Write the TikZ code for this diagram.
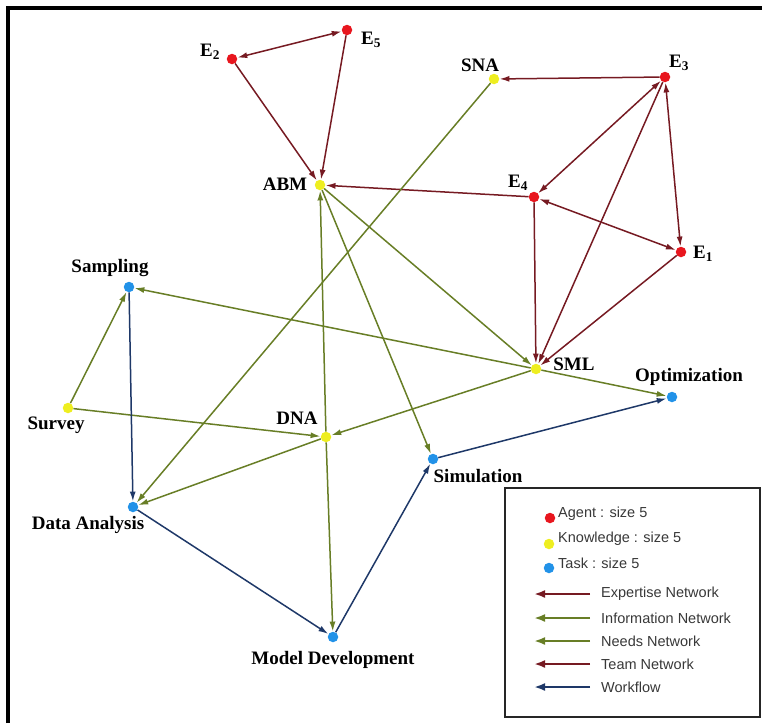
\documentclass[tikz,border=0pt]{standalone}
\usepackage{fontspec}
\setmainfont{Liberation Serif}
\setsansfont{Liberation Sans}
\usepackage{xcolor}
\usetikzlibrary{arrows.meta,backgrounds}
\definecolor{agentred}{RGB}{232,22,30}
\definecolor{knowyellow}{RGB}{238,238,32}
\definecolor{taskblue}{RGB}{34,146,232}
\definecolor{teamred}{RGB}{118,26,34}
\definecolor{infogreen}{RGB}{104,126,38}
\definecolor{flowblue}{RGB}{30,56,104}

\begin{document}
\begin{tikzpicture}[
  x=1pt, y=-1pt,
  >={Latex[length=10pt,width=6pt]},
  agent/.style={circle, fill=agentred, inner sep=0pt, minimum size=10.5pt},
  know/.style={circle, fill=knowyellow, inner sep=0pt, minimum size=10.5pt},
  task/.style={circle, fill=taskblue, inner sep=0pt, minimum size=10.5pt},
  lbl/.style={font=\fontsize{19}{19}\selectfont\bfseries, inner sep=0pt},
  leg/.style={font=\sffamily\fontsize{14.5}{15}\selectfont, text=black!78, inner sep=0pt, anchor=west},
  rarr/.style={->, draw=teamred, line width=1.5pt},
  garr/.style={->, draw=infogreen, line width=1.5pt},
  barr/.style={->, draw=flowblue, line width=1.5pt},
  legarr/.style={line width=2.6pt, >={Latex[length=11pt,width=8pt]}},
]
\useasboundingbox (0,0) rectangle (762,723);
\draw[line width=4pt] (8,723) -- (8,8) -- (762,8);

\node[agent] (e2) at (232,59) {};
\node[agent] (e5) at (347,30) {};
\node[agent] (e3) at (665,77) {};
\node[agent] (e4) at (534,197) {};
\node[agent] (e1) at (681,252) {};
\node[know] (sna) at (494,79) {};
\node[know] (abm) at (320,185) {};
\node[know] (sml) at (536,369) {};
\node[know] (dna) at (326,437) {};
\node[know] (survey) at (68,408) {};
\node[task] (sampling) at (129,287) {};
\node[task] (optimization) at (672,397) {};
\node[task] (simulation) at (433,459) {};
\node[task] (dataanalysis) at (133,507) {};
\node[task] (modeldev) at (333,637) {};

\node[lbl] (e2l) at (210,52) {E\textsubscript{2}};
\node[lbl] (e5l) at (371,40) {E\textsubscript{5}};
\node[lbl] (e3l) at (679,63) {E\textsubscript{3}};
\node[lbl] (e4l) at (518,183) {E\textsubscript{4}};
\node[lbl] (e1l) at (703,254) {E\textsubscript{1}};
\node[lbl] (snal) at (480,65) {SNA};
\node[lbl] (abml) at (285,184) {ABM};
\node[lbl] (smll) at (574,364) {SML};
\node[lbl] (dnal) at (297,418) {DNA};
\node[lbl] (surveyl) at (56,425) {Survey};
\node[lbl] (samplingl) at (110,268) {Sampling};
\node[lbl] (optimizationl) at (689,377) {Optimization};
\node[lbl] (simulationl) at (478,476) {Simulation};
\node[lbl] (dataanalysisl) at (88,525) {Data Analysis};
\node[lbl] (modeldevl) at (333,660) {Model Development};

\begin{scope}[on background layer]
\draw[rarr, <->] (e2) -- (e5);
\draw[rarr] (e2) -- (abm);
\draw[rarr] (e5) -- (abm);
\draw[rarr] (e3) -- (sna);
\draw[rarr, <->] (e3) -- (e4);
\draw[rarr, <->] (e3) -- (e1);
\draw[rarr, <->] (e4) -- (e1);
\draw[rarr] (e4) -- (abm);
\draw[rarr] (e4) -- (sml);
\draw[rarr] (e3) -- (sml);
\draw[rarr] (e1) -- (sml);

\draw[garr] (sna) -- (dataanalysis);
\draw[garr] (abm) -- (sml);
\draw[garr] (abm) -- (simulation);
\draw[garr] (dna) -- (abm);
\draw[garr] (dna) -- (modeldev);
\draw[garr] (dna) -- (dataanalysis);
\draw[garr] (sml) -- (sampling);
\draw[garr] (sml) -- (dna);
\draw[garr] (sml) -- (optimization);
\draw[garr] (survey) -- (sampling);
\draw[garr] (survey) -- (dna);

\draw[barr] (sampling) -- (dataanalysis);
\draw[barr] (dataanalysis) -- (modeldev);
\draw[barr] (modeldev) -- (simulation);
\draw[barr] (simulation) -- (optimization);
\end{scope}

\draw[line width=1.2pt, draw=black!85] (505,488) rectangle (760,717);
\node[agent] (lagent) at (550,518) {};
\node[know] (lknow) at (549,544) {};
\node[task] (ltask) at (549,568) {};
\node[leg] (lagentt) at (558,514) {Agent : size 5};
\node[leg] (lknowt) at (558,539) {Knowledge : size 5};
\node[leg] (ltaskt) at (558,563) {Task : size 5};
\node[leg] (lexp) at (601,594) {Expertise Network};
\node[leg] (linfo) at (601,618) {Information Network};
\node[leg] (lneeds) at (601,641) {Needs Network};
\node[leg] (lteam) at (601,664) {Team Network};
\node[leg] (lflow) at (601,687) {Workflow};
\draw[rarr, legarr] ([xshift=-11pt]lexp.west) -- ++(-56,0);
\draw[garr, legarr] ([xshift=-11pt]linfo.west) -- ++(-56,0);
\draw[garr, legarr] ([xshift=-11pt]lneeds.west) -- ++(-56,0);
\draw[rarr, legarr] ([xshift=-11pt]lteam.west) -- ++(-56,0);
\draw[barr, legarr] ([xshift=-11pt]lflow.west) -- ++(-56,0);
\end{tikzpicture}
\end{document}
